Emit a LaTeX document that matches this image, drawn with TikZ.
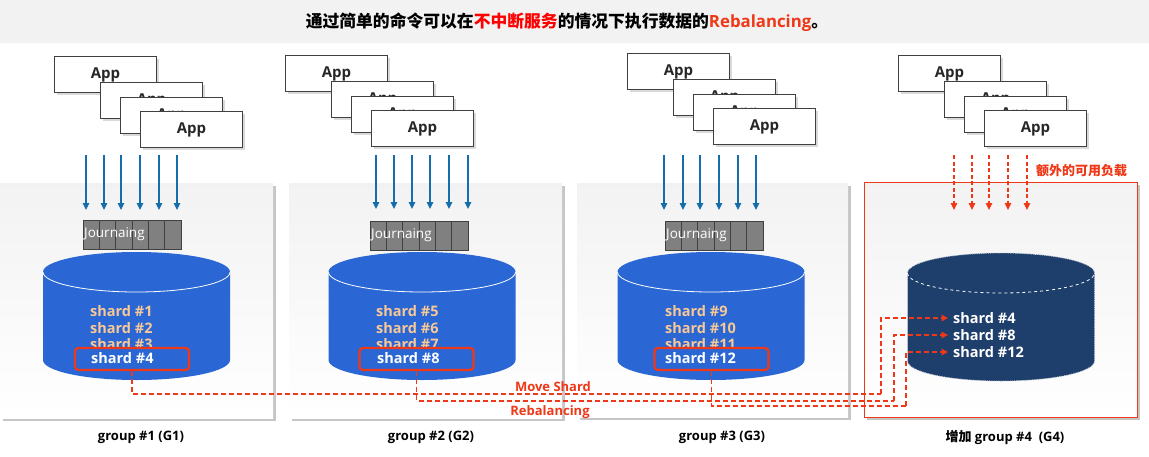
\documentclass[tikz,border=0pt]{standalone}
\usepackage{fontspec}
\usepackage{xcolor}
\setmainfont{Open Sans}
\newfontfamily\cjk{Noto Sans CJK SC}
\usetikzlibrary{calc,arrows.meta,shadows}
\definecolor{titleGray}{RGB}{242,242,242}
\definecolor{titleRed}{RGB}{255,0,0}
\definecolor{hlRed}{RGB}{238,56,24}
\definecolor{drumBlue}{RGB}{42,103,212}
\definecolor{drumNavy}{RGB}{30,62,107}
\definecolor{shardPeach}{RGB}{248,200,150}
\definecolor{feedBlue}{RGB}{20,110,170}
\definecolor{jourGray}{RGB}{128,128,128}
\newcommand{\AppStack}[3]{%
  \node[appbox] (#1a1) at (#2,#3) {App};
  \node[appbox] (#1a2) at (#2+46,#3+26) {App};
  \node[appbox] (#1a3) at (#2+66,#3+41) {App};
  \node[appbox] (#1a4) at (#2+86,#3+55) {App};}
\newcommand{\Journal}[3]{%
  \foreach \k in {0,...,5} {\draw[jcell] (#2+\k*16.33,#3) rectangle ++(16.33,29);}
  \node[jtext] (#1) at (#2,#3+14.5) {Journaing};}
\newcommand{\DbDrum}[4]{%
  \fill[#4] (#1-93.5,#2) -- (#1-93.5,#3) arc[start angle=180,end angle=360,x radius=93.5pt,y radius=20pt]
    -- (#1+93.5,#2) arc[start angle=0,end angle=180,x radius=93.5pt,y radius=20pt] -- cycle;}

\begin{document}
\begin{tikzpicture}[x=1pt,y=-1pt,
  panel/.style={anchor=north west,fill=white,top color=black!5,bottom color=white,
    drop shadow={shadow xshift=3pt,shadow yshift=-3pt,opacity=0.45}},
  appbox/.style={anchor=north west,draw=black!75,fill=white,line width=1pt,minimum width=102pt,
    minimum height=36pt,font=\bfseries\fontsize{15}{18}\selectfont\color{black!85},
    drop shadow={shadow xshift=2pt,shadow yshift=-2pt,opacity=0.3}},
  feed/.style={draw=feedBlue,line width=1.3pt,-{Triangle[width=6.5pt,length=7pt]}},
  extra/.style={draw=hlRed,line width=1.3pt,dash pattern=on 4pt off 2.5pt,-{Triangle[width=6.5pt,length=7pt]}},
  jcell/.style={draw=black!75,fill=jourGray,line width=0.9pt},
  jtext/.style={anchor=west,inner sep=1pt,text=white,font=\fontsize{13.5}{16}\selectfont},
  shardtxt/.style={anchor=west,inner sep=0pt,text=shardPeach,font=\bfseries\fontsize{14.5}{16}\selectfont},
  shardhot/.style={shardtxt,text=white},
  hlbox/.style={draw=hlRed,fill=drumBlue,line width=2.3pt,rounded corners=3.5pt,minimum width=114pt,minimum height=22pt},
  moveline/.style={draw=hlRed,line width=1.4pt,dash pattern=on 5pt off 3pt},
  grouplabel/.style={font=\bfseries\fontsize{13}{15}\selectfont}]
\useasboundingbox (0,0) rectangle (1149,456);

% title
\fill[titleGray] (0,0) rectangle (1149,43);
\node[font=\bfseries\fontsize{16.8}{18}\selectfont] (title) at (567,22)
  {{\cjk 通过简单的命令可以在}{\cjk\color{titleRed}不中断服务}{\cjk 的情况下执行数据的}\textcolor{hlRed}{Rebalancing}{\cjk 。}};

% group panels
\node[panel,minimum width=273pt,minimum height=235pt] (p1) at (0,183) {};
\node[panel,minimum width=273pt,minimum height=235pt] (p2) at (289,183) {};
\node[panel,minimum width=271pt,minimum height=234pt] (p3) at (577,183) {};
\node[panel,draw=hlRed,line width=0.9pt,minimum width=273pt,minimum height=235pt] (p4) at (864,182) {};

% apps
\AppStack{g1}{54}{56}
\AppStack{g2}{285}{55}
\AppStack{g3}{627}{53}
\AppStack{g4}{898}{55}

% writes coming in
\foreach \x [count=\k] in {86,104,121,140,159,177} {
  \coordinate (g1u\k) at (\x,155); \coordinate (g1d\k) at (\x,210);
  \draw[feed] (g1u\k) -- (g1d\k);}
\foreach \x [count=\k] in {376,394,412,430,449,468} {
  \coordinate (g2u\k) at (\x,155); \coordinate (g2d\k) at (\x,209);
  \draw[feed] (g2u\k) -- (g2d\k);}
\foreach \x [count=\k] in {664,683,700,719,738,756} {
  \coordinate (g3u\k) at (\x,155); \coordinate (g3d\k) at (\x,210);
  \draw[feed] (g3u\k) -- (g3d\k);}
\foreach \x [count=\k] in {954,972,989,1008,1027} {
  \coordinate (g4u\k) at (\x,155); \coordinate (g4d\k) at (\x,210);
  \draw[extra] (g4u\k) -- (g4d\k);}
\node[anchor=west,inner sep=0pt,text=hlRed,font=\cjk\bfseries\fontsize{13}{14}\selectfont] (load) at (1036,171) {额外的可用负载};

% journals
\Journal{j1}{83}{220}
\Journal{j2}{370}{221}
\Journal{j3}{665}{221}

% drums
\DbDrum{136.5}{272}{360}{drumBlue}
\draw[white,line width=0.8pt] (136.5-93.5,272) arc[start angle=180,end angle=360,x radius=93.5pt,y radius=20pt];
\DbDrum{422}{272}{360}{drumBlue}
\draw[white,line width=0.8pt] (422-93.5,272) arc[start angle=180,end angle=360,x radius=93.5pt,y radius=20pt];
\DbDrum{711}{272}{360}{drumBlue}
\draw[white,line width=0.8pt] (711-93.5,272) arc[start angle=180,end angle=360,x radius=93.5pt,y radius=20pt];
\DbDrum{1001}{273}{361}{drumNavy}
\draw[white!75!drumNavy,densely dotted,line width=0.8pt] (1001-93.5,273) -- (1001-93.5,361)
  arc[start angle=180,end angle=360,x radius=93.5pt,y radius=20pt] -- (1001+93.5,273)
  arc[start angle=0,end angle=180,x radius=93.5pt,y radius=20pt];
\draw[white,dashed,line width=0.8pt] (1001-93.5,273) arc[start angle=180,end angle=360,x radius=93.5pt,y radius=20pt];

% shards
\node[shardtxt] (s1) at (90,311) {shard \#1};
\node[shardtxt] (s2) at (90,328) {shard \#2};
\node[shardtxt] (s3) at (90,344) {shard \#3};
\node[hlbox] (hl1) at (132,359) {};
\node[shardhot] (s4) at (91,358) {shard \#4};
\node[shardtxt] (s5) at (376,311) {shard \#5};
\node[shardtxt] (s6) at (376,328) {shard \#6};
\node[shardtxt] (s7) at (376,344) {shard \#7};
\node[hlbox] (hl2) at (416.5,359) {};
\node[shardhot] (s8) at (377,358) {shard \#8};
\node[shardtxt] (s9) at (665,311) {shard \#9};
\node[shardtxt] (s10) at (665,328) {shard \#10};
\node[shardtxt] (s11) at (665,344) {shard \#11};
\node[hlbox] (hl3) at (711.5,359) {};
\node[shardhot] (s12) at (665,358) {shard \#12};

\node[shardhot,inner xsep=5pt] (g4s4) at (948,318) {shard \#4};
\node[shardhot,inner xsep=5pt] (g4s8) at (948,335) {shard \#8};
\node[shardhot,inner xsep=5pt] (g4s12) at (948,352) {shard \#12};

% move shard lines
\coordinate (r1) at (881,394);
\coordinate (r2) at (894,401);
\coordinate (r3) at (906,406);
\draw[moveline] (hl1.south) |- (r1);
\draw[moveline,-{Triangle[width=6.5pt,length=6.5pt]}] (r1) |- (g4s4.west);
\draw[moveline] (hl2.south) |- (r2);
\draw[moveline,-{Triangle[width=6.5pt,length=6.5pt]}] (r2) |- (g4s8.west);
\draw[moveline] (hl3.south) |- (r3);
\draw[moveline,-{Triangle[width=6.5pt,length=6.5pt]}] (r3) |- (g4s12.west);
\node[text=hlRed,font=\bfseries\fontsize{13}{15}\selectfont] (mv) at (553,387) {Move Shard};
\node[text=hlRed,font=\bfseries\fontsize{13}{15}\selectfont] (rb) at (550,412) {Rebalancing};

% group names
\node[grouplabel] (n1) at (141,437) {group \#1 (G1)};
\node[grouplabel] (n2) at (431,437) {group \#2 (G2)};
\node[grouplabel] (n3) at (722,437) {group \#3 (G3)};
\node[grouplabel] (n4) at (1005,437) {{\cjk 增加} group \#4\ \ (G4)};
\end{tikzpicture}
\end{document}
